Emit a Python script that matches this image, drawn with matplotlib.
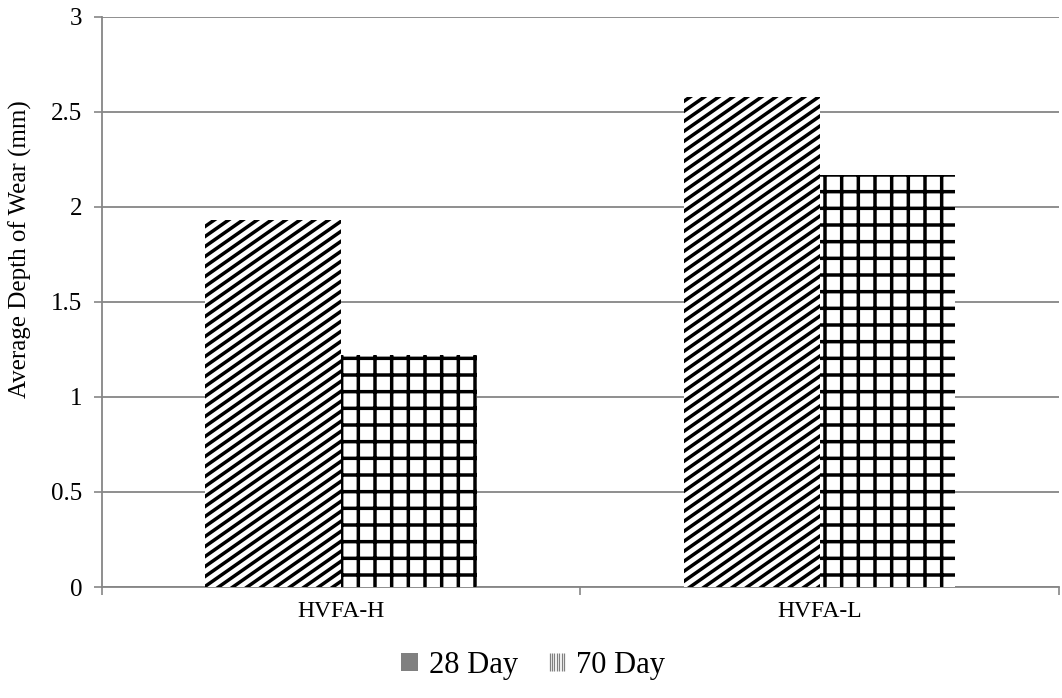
import matplotlib
matplotlib.use("Agg")
import matplotlib.pyplot as plt
from matplotlib.patches import Rectangle
from matplotlib.lines import Line2D
from matplotlib.legend_handler import HandlerBase
from matplotlib import hatch as mhatch
from matplotlib.path import Path
import numpy as np

categories = ["HVFA-H", "HVFA-L"]
series_names = ["28 Day", "70 Day"]
day28 = [1.93, 2.58]
day70 = [1.22, 2.17]


# Shallow upward-diagonal hatch (slope ~0.7) replacing the default '/' hatch
class ShallowNorthEast(mhatch.HatchPatternBase):
    def __init__(self, hatch, density):
        n = hatch.count('/')
        self.offsets = np.round(np.arange(-1.0, 1.0001, 0.1), 3) if n else np.array([])
        self.num_lines = len(self.offsets)
        self.num_vertices = self.num_lines * 2

    def set_vertices_and_codes(self, vertices, codes):
        x0, x1 = -0.1, 1.1
        for i, c in enumerate(self.offsets):
            vertices[2 * i] = (x0, c + 0.7 * x0)
            vertices[2 * i + 1] = (x1, c + 0.7 * x1)
            codes[2 * i] = Path.MOVETO
            codes[2 * i + 1] = Path.LINETO


mhatch._hatch_types[:] = [ShallowNorthEast if t is mhatch.NorthEastHatch else t
                          for t in mhatch._hatch_types]


class SolidHandler(HandlerBase):
    def create_artists(self, legend, orig_handle, xdescent, ydescent, width, height, fontsize, trans):
        r = Rectangle((-xdescent, -ydescent), width, height, facecolor='#808080',
                      edgecolor='none', transform=trans)
        return [r]


class StripeHandler(HandlerBase):
    def create_artists(self, legend, orig_handle, xdescent, ydescent, width, height, fontsize, trans):
        arts = []
        n = 7
        for i in range(n):
            xx = -xdescent + width * (i + 0.5) / n
            arts.append(Line2D([xx, xx], [-ydescent, -ydescent + height], color='#808080',
                               linewidth=0.9, solid_capstyle='butt', transform=trans))
        return arts


class H1: pass
class H2: pass


plt.rcParams['font.family'] = ['Liberation Serif', 'DejaVu Serif']
plt.rcParams['hatch.linewidth'] = 2.5

fig = plt.figure(figsize=(10.62, 6.98), dpi=100)
ax = fig.add_axes([0.096, 0.159, 0.901, 0.817])

x = np.arange(len(categories))
w = 0.284
ax.bar(x - w/2, day28, w, facecolor='white', edgecolor='black', hatch='/', linewidth=0, zorder=3)
ax.bar(x + w/2, day70, w, facecolor='white', edgecolor='black', hatch='+', linewidth=0, zorder=3)

ax.set_xlim(-0.5, 1.5)
ax.set_ylim(0, 3)
ax.set_yticks([0, 0.5, 1, 1.5, 2, 2.5, 3])
ax.set_yticklabels(["0", "0.5", "1", "1.5", "2", "2.5", "3"])
ax.set_xticks([-0.5, 0.5, 1.5], minor=False)
ax.set_xticklabels(["", "", ""])
ax.set_xticks(x, minor=True)
ax.set_xticklabels(categories, minor=True)
ax.tick_params(axis='x', which='minor', length=0, labelsize=17, pad=10)
ax.tick_params(axis='x', which='major', length=6, color='#868686', width=1.2)
ax.tick_params(axis='y', length=6, color='#868686', width=1.2, labelsize=18, pad=8)

ax.yaxis.grid(True, color='#868686', linewidth=1.3, zorder=0)
ax.set_axisbelow(True)
for s in ['top', 'right']:
    ax.spines[s].set_visible(False)
for s in ['left', 'bottom']:
    ax.spines[s].set_color('#868686')
    ax.spines[s].set_linewidth(1.3)

ax.set_ylabel("Average Depth of Wear (mm)", fontsize=18)
ax.yaxis.set_label_coords(-0.073, 0.593)

h1, h2 = H1(), H2()
fig.legend([h1, h2], series_names, loc='center', bbox_to_anchor=(0.502, 0.047), ncol=2,
           frameon=False, fontsize=22, handlelength=0.55, handleheight=0.55,
           handletextpad=0.35, columnspacing=1.0,
           handler_map={H1: SolidHandler(), H2: StripeHandler()})

fig.savefig("out.png", dpi=100)
